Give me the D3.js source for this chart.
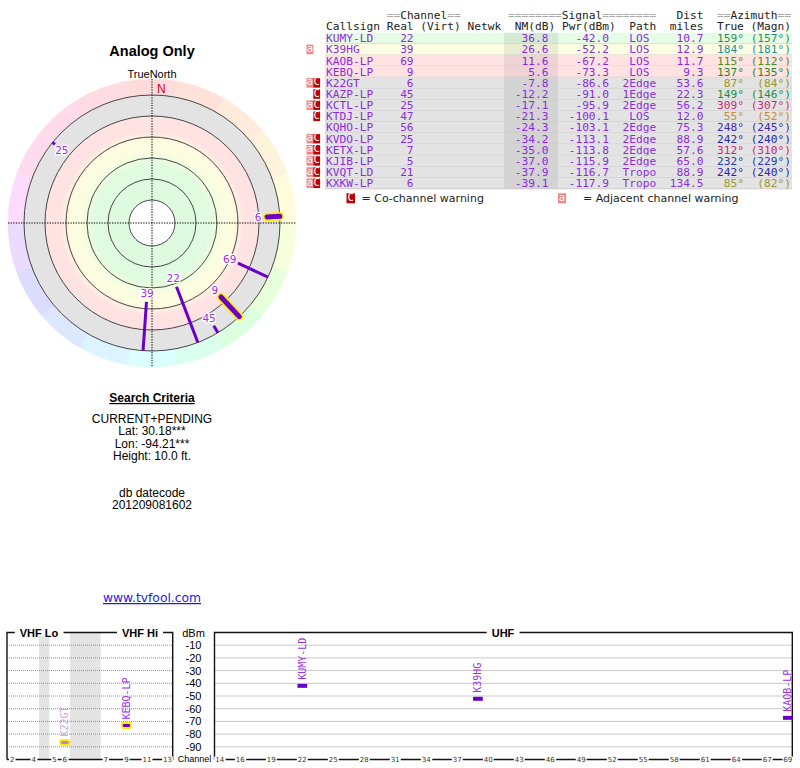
<!DOCTYPE html>
<html>
<head>
<meta charset="utf-8">
<script src="https://cdn.jsdelivr.net/npm/d3@7"></script>
<style>
body { margin: 0; background: #fff; }
svg { display: block; }
</style>
</head>
<body>
<div id="chart"></div>
<script>
// station list
var callsigns = ["KUMY-LD", "K39HG", "KAOB-LP", "KEBQ-LP", "K22GT", "KAZP-LP", "KCTL-LP",
                 "KTDJ-LP", "KQHO-LP", "KVDO-LP", "KETX-LP", "KJIB-LP", "KVQT-LD", "KXKW-LP"];
var realCh   = [22, 39, 69, 9, 6, 45, 25, 47, 56, 25, 7, 5, 21, 6];
var nmDb     = [36.8, 26.6, 11.6, 5.6, -7.8, -12.2, -17.1, -21.3, -24.3, -34.2, -35.0, -37.0, -37.9, -39.1];
var pwrDbm   = [-42.0, -52.2, -67.2, -73.3, -86.6, -91.0, -95.9, -100.1, -103.1, -113.1, -113.8, -115.9, -116.7, -117.9];
var paths    = ["LOS", "LOS", "LOS", "LOS", "2Edge", "1Edge", "2Edge", "LOS", "2Edge", "2Edge", "2Edge", "2Edge", "Tropo", "Tropo"];
var distMi   = [10.7, 12.9, 11.7, 9.3, 53.6, 22.3, 56.2, 12.0, 75.3, 88.9, 57.6, 65.0, 88.9, 134.5];
var azTrue   = [159, 184, 115, 137, 87, 149, 309, 55, 248, 242, 312, 232, 242, 85];
var azMagn   = [157, 181, 112, 135, 84, 146, 307, 52, 245, 240, 310, 229, 240, 82];
var warnings = ["", "a", "", "", "aC", "C", "aC", "C", "", "aC", "aC", "aC", "aC", "aC"];

var ringLevels = [-20, 0, 20, 40, 60, 80];          // NM(dB) circles on the polar plot
var dbmTicks   = [-10, -20, -30, -40, -50, -60, -70, -80, -90];
var vhfTicks   = [2, 4, 5, 6, 7, 9, 11, 13];
var uhfTicks   = [14, 16, 19, 22, 25, 28, 31, 34, 37, 40, 43, 46, 49, 52, 55, 58, 61, 64, 67, 69];
var criteria   = ["CURRENT+PENDING", "Lat: 30.18***", "Lon: -94.21***", "Height: 10.0 ft."];

var stations = callsigns.map(function(c, i) {
    return {call: c, ch: realCh[i], nm: nmDb[i], pwr: pwrDbm[i], path: paths[i],
            dist: distMi[i], az: azTrue[i], mag: azMagn[i], warn: warnings[i]};
});

var purple = "#8a2be2", stub = "#6a00c8", mono = "DejaVu Sans Mono", sans = "Liberation Sans";

var svg = d3.select("#chart").append("svg")
    .attr("width", 800).attr("height", 768);

// azimuth -> hue, roughly like the compass wheel colours
var hueOf = d3.scaleLinear().domain([0, 60, 90, 180, 240, 300, 360]).range([0, 40, 62, 178, 238, 325, 360]);
var lightOf = d3.scaleLinear().domain([0, 40, 60, 120, 180, 240, 300, 360])
    .range([0.45, 0.48, 0.36, 0.33, 0.36, 0.42, 0.5, 0.45]);
function azColor(az) { var h = hueOf(az); return d3.hsl(h, 0.65, lightOf(h)) + ""; }

/* ---------------- polar plot ---------------- */
var cx = 152, cy = 223;
var rScale = d3.scaleLinear().domain([-20, 80]).range([128, 23]);

function polar(az, r) {
    var a = az * Math.PI / 180;
    return [cx + r * Math.sin(a), cy - r * Math.cos(a)];
}

svg.append("text").attr("x", cx).attr("y", 56).attr("text-anchor", "middle")
    .style("font", "bold 14.5px " + sans).text("Analog Only");
svg.append("text").attr("x", cx).attr("y", 78).attr("text-anchor", "middle")
    .style("font", "11px " + sans).text("TrueNorth");

var defs = svg.append("defs");
var grad = defs.append("radialGradient").attr("id", "bands")
    .attr("gradientUnits", "userSpaceOnUse").attr("cx", cx).attr("cy", cy).attr("r", 128);
[[0, "#ddfadd"], [0.45, "#e0fbe0"], [0.56, "#fbfde0"], [0.64, "#fefde0"],
 [0.72, "#ffe3e3"], [0.832, "#ffe3e3"], [0.838, "#e3e3e3"], [1, "#e3e3e3"]].forEach(function(s) {
    grad.append("stop").attr("offset", s[0]).attr("stop-color", s[1]);
});

var polarG = svg.append("g");

// compass colour ring
var ringArc = d3.arc().innerRadius(128).outerRadius(144)
    .startAngle(function(d) { return (d - 10) * Math.PI / 180; })
    .endAngle(function(d) { return (d + 10) * Math.PI / 180; });
polarG.selectAll(".wedge").data(d3.range(0, 360, 20)).enter().append("path")
    .attr("class", "wedge")
    .attr("transform", "translate(" + cx + "," + cy + ")")
    .attr("d", ringArc)
    .style("fill", function(d) { return d3.hsl(hueOf(d), 1, 0.93) + ""; })
    .style("stroke", function(d) { return d3.hsl(hueOf(d), 1, 0.93) + ""; })
    .style("stroke-width", 0.5);

polarG.append("circle").attr("cx", cx).attr("cy", cy).attr("r", 128).style("fill", "url(#bands)");
polarG.append("circle").attr("cx", cx).attr("cy", cy).attr("r", rScale(80)).style("fill", "#fff");

polarG.selectAll(".ring").data(ringLevels).enter().append("circle")
    .attr("class", "ring")
    .attr("cx", cx).attr("cy", cy)
    .attr("r", function(d) { return rScale(d); })
    .style("fill", "none").style("stroke", "#333").style("stroke-width", 0.9);

// crosshair
polarG.append("line").attr("x1", cx - 144).attr("x2", cx + 144).attr("y1", cy).attr("y2", cy)
    .style("stroke", "#000").style("stroke-dasharray", "1.3,1.3");
polarG.append("line").attr("x1", cx).attr("x2", cx).attr("y1", cy - 144).attr("y2", cy + 144)
    .style("stroke", "#000").style("stroke-dasharray", "1.3,1.3");

svg.append("text").attr("x", 157).attr("y", 93).style("font", "12px " + sans)
    .style("fill", "#e00000").text("N");

var shown = stations.filter(function(d) { return d.nm > -20; });
shown.forEach(function(d) {
    var p0 = polar(d.az, rScale(d.nm)), p1 = polar(d.az, rScale(-20));
    if (d.ch <= 13) {
        polarG.append("line").attr("x1", p0[0]).attr("y1", p0[1]).attr("x2", p1[0]).attr("y2", p1[1])
            .style("stroke", "#ffee00").style("stroke-width", 8.5).style("stroke-linecap", "round");
        polarG.append("line").attr("x1", p0[0]).attr("y1", p0[1]).attr("x2", p1[0]).attr("y2", p1[1])
            .style("stroke", stub).style("stroke-width", 5).style("stroke-linecap", "round");
    } else {
        polarG.append("line").attr("x1", p0[0]).attr("y1", p0[1]).attr("x2", p1[0]).attr("y2", p1[1])
            .style("stroke", stub).style("stroke-width", 3);
    }
    var pl = polar(d.az, rScale(d.nm) - 9);
    polarG.append("text").attr("x", pl[0]).attr("y", pl[1])
        .attr("text-anchor", "middle").attr("dominant-baseline", "central")
        .style("font", "10.5px DejaVu Sans").style("fill", "#9a30e8")
        .style("stroke", "#fff").style("stroke-width", 2.5).style("paint-order", "stroke")
        .text(d.ch);
});

/* ---------------- search criteria ---------------- */
svg.append("text").attr("x", cx).attr("y", 402).attr("text-anchor", "middle")
    .style("font", "bold 12px " + sans).style("text-decoration", "underline").text("Search Criteria");
svg.selectAll(".crit").data(criteria).enter().append("text")
    .attr("class", "crit")
    .attr("x", cx).attr("y", function(d, i) { return 423 + i * 12.3; })
    .attr("text-anchor", "middle").style("font", "12px " + sans).text(function(d) { return d; });
svg.append("text").attr("x", cx).attr("y", 497).attr("text-anchor", "middle")
    .style("font", "12px " + sans).text("db datecode");
svg.append("text").attr("x", cx).attr("y", 509).attr("text-anchor", "middle")
    .style("font", "12px " + sans).text("201209081602");
svg.append("text").attr("x", cx).attr("y", 602).attr("text-anchor", "middle")
    .style("font", "12.3px DejaVu Sans").style("fill", "#1a1aee")
    .style("text-decoration", "underline").text("www.tvfool.com");

/* ---------------- station table ---------------- */
var tx = 326, cw = 6.74, rowY0 = 32.7, rowH = 11.15;
function col(n) { return tx + n * cw; }
function rowFill(nm) {
    if (nm >= 30) return "#e6fce6";
    if (nm >= 15) return "#fdfde4";
    if (nm >= 0) return "#ffe3e3";
    return "#e3e3e3";
}

var table = svg.append("g").style("font-family", mono).style("font-size", "11.2px");

function header(y, parts) {
    parts.forEach(function(p) {
        var t = table.append("text").attr("x", col(p[0])).attr("y", y).style("fill", "#222");
        p[1].split(/(=+)/).forEach(function(s) {
            if (!s) return;
            t.append("tspan").style("fill", s[0] === "=" ? "#aaa" : "#222").text(s);
        });
    });
}
header(19, [[9, "==Channel=="], [27, "========Signal========"], [52, "Dist"], [58, "==Azimuth=="]]);
header(29.5, [[0, "Callsign"], [9, "Real"], [14, "(Virt)"], [21, "Netwk"], [28, "NM(dB)"],
              [35, "Pwr(dBm)"], [45, "Path"], [51, "miles"], [58, "True"], [63, "(Magn)"]]);

var rows = table.selectAll(".row").data(stations).enter().append("g")
    .attr("class", "row")
    .attr("transform", function(d, i) { return "translate(0," + (rowY0 + i * rowH) + ")"; });

rows.append("rect").attr("x", 325).attr("width", 467).attr("height", rowH)
    .style("fill", function(d) { return rowFill(d.nm); });
rows.append("rect").attr("x", 504).attr("width", 54).attr("height", rowH)
    .style("fill", "rgba(0,0,0,0.07)");
rows.append("line").attr("x1", 325).attr("x2", 792).attr("y1", rowH).attr("y2", rowH)
    .style("stroke", "#c4c4c4").style("stroke-width", 0.8);

var base = rowH / 2 + 4;
rows.append("text").attr("x", col(0)).attr("y", base).style("fill", purple).text(function(d) { return d.call; });
rows.append("text").attr("x", col(13)).attr("y", base).attr("text-anchor", "end").style("fill", purple)
    .text(function(d) { return d.ch; });
rows.append("text").attr("x", col(33)).attr("y", base).attr("text-anchor", "end").style("fill", purple)
    .text(function(d) { return d.nm.toFixed(1); });
rows.append("text").attr("x", col(42)).attr("y", base).attr("text-anchor", "end").style("fill", purple)
    .text(function(d) { return d.pwr.toFixed(1); });
rows.append("text").attr("x", col(46.5)).attr("y", base).attr("text-anchor", "middle").style("fill", purple)
    .text(function(d) { return d.path; });
rows.append("text").attr("x", col(56)).attr("y", base).attr("text-anchor", "end").style("fill", purple)
    .text(function(d) { return d.dist.toFixed(1); });
rows.append("text").attr("x", col(62)).attr("y", base).attr("text-anchor", "end")
    .style("fill", function(d) { return azColor(d.az); })
    .text(function(d) { return d.az + "\u00b0"; });
rows.append("text").attr("x", col(69)).attr("y", base).attr("text-anchor", "end")
    .style("fill", function(d) { return azColor(d.az); })
    .text(function(d) { return "(" + d.mag + "\u00b0)"; });

// warning badges
function badge(g, x, y, w, h, letter) {
    g.append("rect").attr("x", x).attr("y", y).attr("width", w).attr("height", h)
        .style("fill", letter === "a" ? "#f28585" : "#c00000");
    g.append("text").attr("x", x + w / 2).attr("y", y + h - 2.3).attr("text-anchor", "middle")
        .style("fill", "#fff").style("font", "10.5px " + mono).text(letter);
}
rows.each(function(d) {
    var g = d3.select(this);
    if (d.warn.indexOf("a") >= 0) badge(g, 306.5, 0.8, 6.8, rowH - 1.6, "a");
    if (d.warn.indexOf("C") >= 0) badge(g, 313.3, 0.8, 6.8, rowH - 1.6, "C");
});

badge(svg, 346.5, 193.3, 8.5, 10, "C");
svg.append("text").attr("x", 361.5).attr("y", 202).style("font", "11px DejaVu Sans").style("fill", "#222")
    .text("= Co-channel warning");
badge(svg, 558, 193.3, 8, 10, "a");
svg.append("text").attr("x", 583).attr("y", 202).style("font", "11px DejaVu Sans").style("fill", "#222")
    .text("= Adjacent channel warning");

/* ---------------- spectrum panels ---------------- */
var panelTop = 632.5, panelBottom = 759.5;
var yDbm = d3.scaleLinear().domain([0, -100]).range([panelTop, panelBottom]);
function vhfLow(ch) { return ch <= 4 ? 54 + (ch - 2) * 6 : ch <= 6 ? 76 + (ch - 5) * 6 : 174 + (ch - 7) * 6; }
var xVhf = d3.scaleLinear().domain([54, 72, 76, 88, 174, 216]).range([7, 39, 49.3, 70, 100.7, 172.7]);
var xUhf = d3.scaleLinear().domain([13.5, 69.5]).range([214.5, 793]);

var spec = svg.append("g");
// gaps in the VHF band
[[72, 76], [88, 174]].forEach(function(g) {
    spec.append("rect").attr("x", xVhf(g[0])).attr("width", xVhf(g[1]) - xVhf(g[0]))
        .attr("y", panelTop).attr("height", panelBottom - panelTop).style("fill", "#e4e4e4");
});

function grid(x0, x1) {
    spec.selectAll(null).data(dbmTicks).enter().append("line")
        .attr("x1", x0).attr("x2", x1)
        .attr("y1", function(d) { return yDbm(d); }).attr("y2", function(d) { return yDbm(d); })
        .style("stroke", "#777").style("stroke-width", 0.8).style("stroke-dasharray", "1,1");
}
grid(xVhf(54), xVhf(216));
grid(xUhf(13.5), 792.3);

spec.selectAll(".dbm").data(dbmTicks).enter().append("text")
    .attr("class", "dbm").attr("x", 193.5).attr("y", function(d) { return yDbm(d) + 4; })
    .attr("text-anchor", "middle").style("font", "11px " + sans).text(function(d) { return d; });
spec.append("text").attr("x", 193.5).attr("y", 637).attr("text-anchor", "middle")
    .style("font", "11px " + sans).text("dBm");
spec.append("text").attr("x", 194.5).attr("y", 761.5).attr("text-anchor", "middle")
    .style("font", "9px " + sans).text("Channel");

function frame(x0, x1) {
    spec.append("path")
        .attr("d", "M" + x0 + "," + panelBottom + "V" + panelTop + "H" + x1 + "V" + panelBottom + "H" + x0)
        .style("fill", "none").style("stroke", "#111").style("stroke-width", 1.4);
}
frame(xVhf(54), xVhf(216));
frame(xUhf(13.5), 792.3);

function boxLabel(x, txt) {
    var t = spec.append("text").attr("x", x).attr("y", panelTop + 4).attr("text-anchor", "middle")
        .style("font", "bold 11px " + sans).text(txt);
    var bb = t.node().getBBox();
    spec.insert("rect", function() { return t.node(); })
        .attr("x", bb.x - 5).attr("width", bb.width + 10).attr("y", panelTop - 3).attr("height", 6)
        .style("fill", "#fff");
}
boxLabel(39, "VHF Lo");
boxLabel(140, "VHF Hi");
boxLabel(503, "UHF");

function tickLabel(x, txt) {
    var t = spec.append("text").attr("x", x).attr("y", panelBottom + 2.5).attr("text-anchor", "middle")
        .style("font", "7px DejaVu Sans").style("fill", "#333").text(txt);
    var bb = t.node().getBBox();
    spec.insert("rect", function() { return t.node(); })
        .attr("x", bb.x - 1).attr("width", bb.width + 2).attr("y", panelBottom - 3).attr("height", 6)
        .style("fill", "#fff");
}
vhfTicks.forEach(function(ch) { tickLabel(xVhf(vhfLow(ch) + 3), ch); });
uhfTicks.forEach(function(ch) { tickLabel(xUhf(ch), ch); });

// station markers
var plotted = stations.filter(function(d) { return d.nm > -10; });
plotted.forEach(function(d) {
    var x0, x1;
    if (d.ch <= 13) { x0 = xVhf(vhfLow(d.ch)); x1 = xVhf(vhfLow(d.ch) + 6); }
    else { x0 = xUhf(d.ch - 0.5); x1 = xUhf(d.ch + 0.5); }
    var y = yDbm(d.pwr), faded = d.nm < 0;
    var fill = faded ? "#b483ea" : stub;
    if (d.ch <= 13) {
        spec.append("rect").attr("x", x0 + 0.5).attr("y", y - 2.5).attr("width", x1 - x0 - 1).attr("height", 5)
            .attr("rx", 2).style("fill", fill).style("stroke", "#ffee00").style("stroke-width", 2);
    } else {
        spec.append("rect").attr("x", x0 + 0.3).attr("y", y - 2).attr("width", x1 - x0 - 0.6).attr("height", 4)
            .style("fill", fill);
    }
    var lx = (x0 + x1) / 2 + 3.5;
    spec.append("text").attr("transform", "translate(" + lx + "," + (y - 6) + ") rotate(-90)")
        .style("font", "10px " + mono).style("fill", faded ? "#c9a2ef" : "#9a30e8")
        .text(d.call);
});
</script>
</body>
</html>
